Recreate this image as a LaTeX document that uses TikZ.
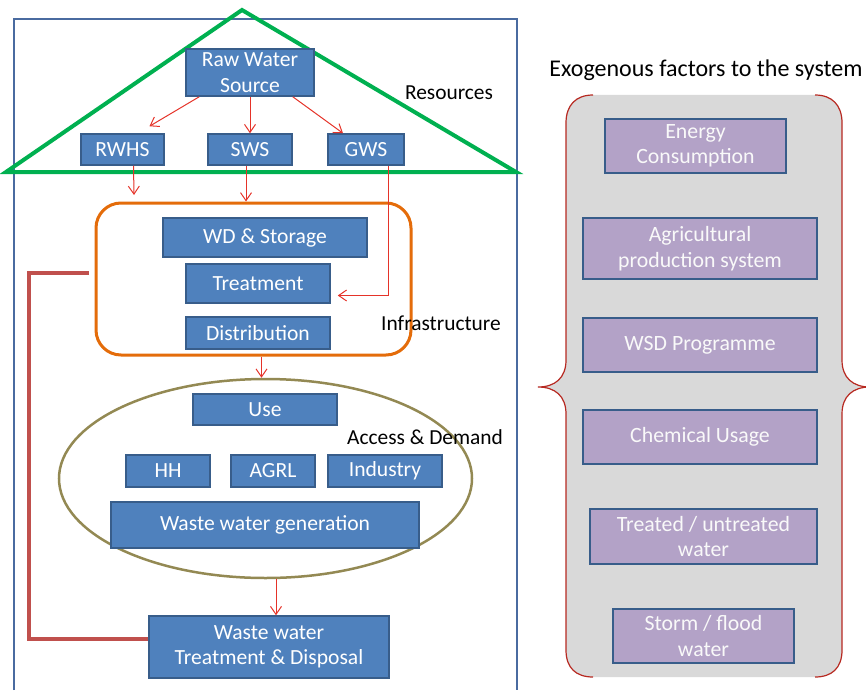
\documentclass[tikz,border=0pt]{standalone}
\usepackage{fontspec}
\setmainfont{Carlito}
\usepackage{tikz}
\usetikzlibrary{arrows.meta,calc,positioning,shapes.geometric}
\definecolor{cajaazul}{HTML}{4F81BD}
\definecolor{bordeazul}{HTML}{385D8A}
\definecolor{lila}{HTML}{B3A2C7}
\definecolor{marco}{HTML}{4A6BA0}
\definecolor{verde}{HTML}{00B050}
\definecolor{naranja}{HTML}{E46C0A}
\definecolor{oliva}{HTML}{938953}
\definecolor{rojo}{HTML}{E53329}
\definecolor{rojoosc}{HTML}{C0504D}
\definecolor{gris}{HTML}{D9D9D9}
\tikzset{
  caja/.style={rectangle,fill=cajaazul,draw=bordeazul,line width=1.5pt,text=white,
    inner sep=0pt,align=center,font=\fontsize{21.6}{25.5}\selectfont},
  factor/.style={rectangle,fill=lila,draw=bordeazul,line width=2pt,text=white!95!gray,
    inner sep=0pt,align=center,font=\fontsize{21.8}{25.5}\selectfont},
  etiqueta/.style={font=\fontsize{21.4}{25}\selectfont,text=black},
  flecha/.style={-{Straight Barb[length=8pt,width=11pt]},rojo,line width=1pt},
  retorno/.style={rojoosc,line width=3.5pt},
  llave/.style={rojo!80!black,line width=1.2pt}
}

\begin{document}
\begin{tikzpicture}[x=1pt,y=-1pt]
\useasboundingbox (0,0) rectangle (866,690);
% left panel
\draw[marco,line width=1.5pt] (14,690)--(14,19)--(517,19)--(517,690);
\draw[verde,line width=4pt,line join=miter] (6,172)--(242,10)--(516,172)--cycle;
\node[caja,minimum width=128,minimum height=47] (raw) at (250,72.5) {Raw Water\\Source};
\node[caja,minimum width=83,minimum height=31] (rwhs) at (122.5,149.5) {RWHS};
\node[caja,minimum width=84,minimum height=31] (sws) at (250,149.5) {SWS};
\node[caja,minimum width=76,minimum height=31] (gws) at (366,149.5) {GWS};
\node[etiqueta] (resources) at (449,93) {Resources};
\draw[flecha] ([xshift=14pt]raw.south west) -- ([xshift=27pt,yshift=7pt]rwhs.north);
\draw[flecha] (raw.south) -- (sws.north);
\draw[flecha] ([xshift=-22pt]raw.south east) -- ([xshift=-23pt]gws.north);

\node[draw=naranja,line width=3pt,rounded corners=25pt,minimum width=315,minimum height=152] (infra) at (253.5,279) {};
\node[caja,minimum width=204,minimum height=39] (wds) at (265,237.5) {WD \& Storage};
\node[caja,minimum width=144,minimum height=39] (treat) at (258,283.5) {Treatment};
\node[caja,minimum width=144,minimum height=32] (dist) at (258,333) {Distribution};
\node[etiqueta] (infralab) at (441,323) {Infrastructure};
\coordinate (rwend) at (134,195);
\draw[flecha] ([xshift=11pt]rwhs.south) -- (rwend);
\draw[flecha] ([xshift=-4pt]sws.south) -- ([xshift=-4pt]sws.south |- infra.north);
\draw[flecha] ([xshift=22pt]gws.south) |- ([xshift=7pt,yshift=-12pt]treat.east);

\node[draw=oliva,line width=2.5pt,ellipse,minimum width=413,minimum height=199] (demand) at (265.5,478.5) {};
\node[caja,minimum width=144,minimum height=31] (use) at (265,409.5) {Use};
\node[caja,minimum width=84,minimum height=32] (hh) at (168,471) {HH};
\node[caja,minimum width=84,minimum height=32] (agrl) at (273,471) {AGRL};
\node[caja,minimum width=114,minimum height=32] (ind) at (385,471) {Industry};
\node[caja,minimum width=308,minimum height=46] (wwg) at (265,525) {Waste water generation};
\node[etiqueta] (acclab) at (425,437) {Access \& Demand};
\draw[flecha] ([xshift=8pt]infra.south) -- ([xshift=8pt]infra.south |- demand.north);

\node[caja,minimum width=240,minimum height=62] (wwtd) at (269,647) {Waste water\\Treatment \& Disposal};
\draw[flecha] ([xshift=7pt]wwtd.north |- demand.south) -- ([xshift=7pt]wwtd.north);
\coordinate (fb) at (89,273);
\draw[retorno] (fb) -- ++(-60,0) |- ([yshift=8pt]wwtd.west);

% right panel
\node[etiqueta,font=\fontsize{24}{28}\selectfont] (exo) at (706,70) {Exogenous factors to the system};
\fill[gris] (593,95) .. controls (576,95) and (566,105) .. (566,123) -- (566,360)
  .. controls (566,378) and (555,387) .. (538,387) .. controls (555,387) and (566,396) .. (566,414)
  -- (566,650) .. controls (566,668) and (576,677) .. (593,677) -- (815,677)
  .. controls (832,677) and (842,668) .. (842,650) -- (842,414)
  .. controls (842,396) and (853,387) .. (870,387) .. controls (853,387) and (842,378) .. (842,360)
  -- (842,123) .. controls (842,105) and (832,95) .. (815,95) -- cycle;
\draw[llave] (593,95) .. controls (576,95) and (566,105) .. (566,123) -- (566,360)
  .. controls (566,378) and (555,387) .. (538,387) .. controls (555,387) and (566,396) .. (566,414)
  -- (566,650) .. controls (566,668) and (576,677) .. (593,677);
\draw[llave] (815,677) .. controls (832,677) and (842,668) .. (842,650) -- (842,414)
  .. controls (842,396) and (853,387) .. (870,387) .. controls (853,387) and (842,378) .. (842,360)
  -- (842,123) .. controls (842,105) and (832,95) .. (815,95);
\node[factor,minimum width=181,minimum height=54] (energy) at (695.5,146) {Energy\\Consumption};
\node[factor,minimum width=234,minimum height=61] (agri) at (700,248.5) {Agricultural\\production system};
\node[factor,minimum width=234,minimum height=54] (wsd) at (700,345) {WSD Programme};
\node[factor,minimum width=234,minimum height=54] (chem) at (700,437) {Chemical Usage};
\node[factor,minimum width=227,minimum height=55] (treated) at (703.5,536.5) {Treated / untreated\\water};
\node[factor,minimum width=181,minimum height=54] (storm) at (703.5,636) {Storm / flood\\water};
\end{tikzpicture}
\end{document}
